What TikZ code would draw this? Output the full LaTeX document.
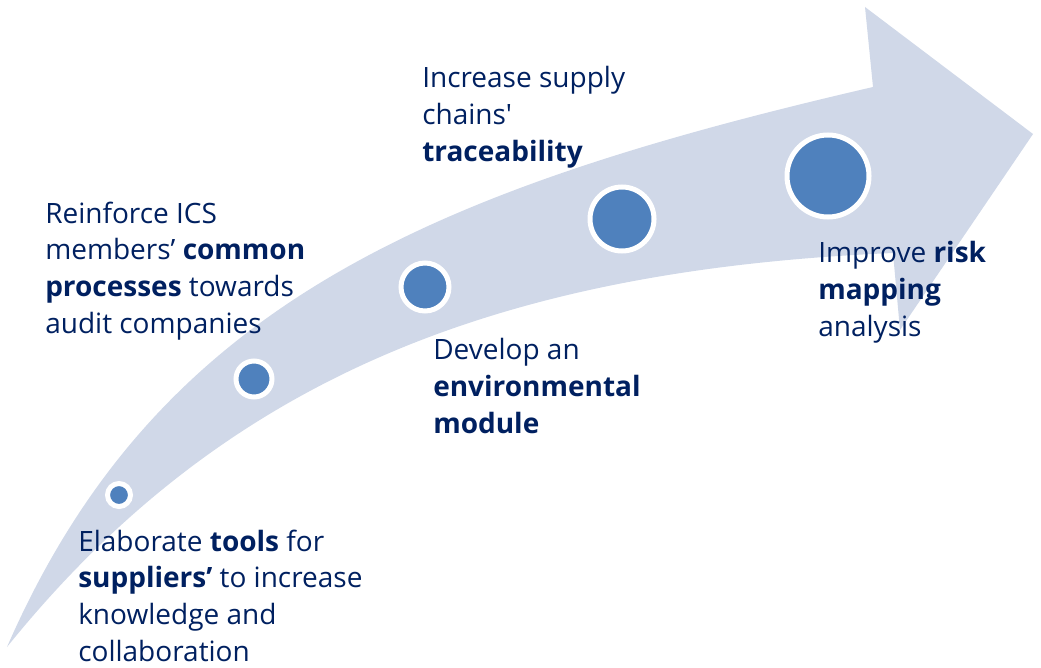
\documentclass[tikz,border=0pt]{standalone}
\usepackage{fontspec}
\setmainfont{Open Sans}
\definecolor{arrowfill}{RGB}{208,216,232}
\definecolor{dotblue}{RGB}{79,129,189}
\definecolor{navy}{RGB}{0,32,96}
\tikzset{
  dot/.style={circle, fill=dotblue, draw=white, line width=3.75pt, inner sep=0pt},
  goal/.style={anchor=base west, align=left, inner sep=0pt, text=navy,
    font=\fontsize{21}{27.5}\selectfont},
}
\begin{document}
\begin{tikzpicture}[x=0.75pt, y=-0.75pt]
\useasboundingbox (0,0) rectangle (1041,667);
\fill[arrowfill] (7,647) .. controls (155,308) and (423,191) .. (873,87)
  -- (865,7) -- (1033,134) -- (900,330) -- (893,253)
  .. controls (497,270) and (223,379) .. (7,647) -- cycle;
\node[dot, minimum size=17.25pt] (c1) at (119,495) {};
\node[dot, minimum size=27pt] (c2) at (254,379) {};
\node[dot, minimum size=36pt] (c3) at (425,287) {};
\node[dot, minimum size=48pt] (c4) at (622,219) {};
\node[dot, minimum size=61.5pt] (c5) at (828,176) {};
\node[goal] (t1) at (78,661) {Elaborate \textbf{tools} for\\\textbf{suppliers’} to increase\\knowledge and\\collaboration};
\node[goal] (t2) at (45,333) {Reinforce ICS\\members’ \textbf{common}\\\textbf{processes} towards\\audit companies};
\node[goal] (t3) at (433,433) {Develop an\\\textbf{environmental}\\\textbf{module}};
\node[goal] (t4) at (422,161) {Increase supply\\chains\textquotesingle\\\textbf{traceability}};
\node[goal] (t5) at (818,336) {Improve \textbf{risk}\\\textbf{mapping}\\analysis};
\end{tikzpicture}
\end{document}
